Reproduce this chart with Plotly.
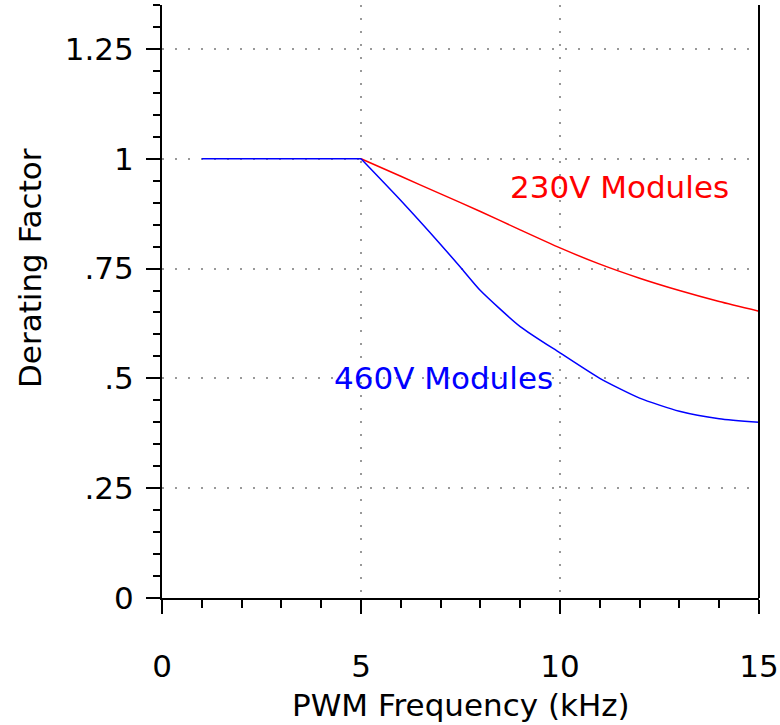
import plotly.graph_objects as go

freq_flat = [1, 5]
derate_flat = [1.0, 1.0]
freq_460 = [5, 6, 7, 7.5, 8, 9, 10, 11, 12, 13, 14, 15]
derate_460 = [1.0, 0.905, 0.805, 0.753, 0.70, 0.618, 0.558, 0.50, 0.455, 0.425, 0.408, 0.40]
freq_230 = [5, 6, 7, 8, 9, 10, 11, 12, 13, 14, 15]
derate_230 = [1.0, 0.96, 0.92, 0.88, 0.838, 0.797, 0.76, 0.728, 0.70, 0.675, 0.653]

x_ticks = [0, 5, 10, 15]
x_ticklabels = ["0", "5", "10", "15"]
y_ticks = [0, 0.25, 0.5, 0.75, 1, 1.25]
y_ticklabels = ["0", ".25", ".5", ".75", "1", "1.25"]

FONT = "DejaVu Sans"
FS = 31

fig = go.Figure()
fig.add_trace(go.Scatter(x=freq_230, y=derate_230, mode="lines",
                         line=dict(color="#ff0000", width=1.5, shape="spline", smoothing=0.6)))
fig.add_trace(go.Scatter(x=freq_flat, y=derate_flat, mode="lines",
                         line=dict(color="#0000ff", width=1.5)))
fig.add_trace(go.Scatter(x=freq_460, y=derate_460, mode="lines",
                         line=dict(color="#0000ff", width=1.5, shape="spline", smoothing=0.6)))

fig.add_annotation(x=11.5, y=0.935, text="230V Modules", showarrow=False,
                   font=dict(family=FONT, size=FS, color="#ff0000"))
fig.add_annotation(x=7.08, y=0.50, text="460V Modules", showarrow=False,
                   font=dict(family=FONT, size=FS, color="#0000ff"))

# axis titles (positioned in pixel terms relative to plot area)
fig.add_annotation(xref="paper", yref="paper", x=0.5, y=-(705 - 598) / (598 - 5),
                   yanchor="middle", text="PWM Frequency (kHz)",
                   showarrow=False, font=dict(family=FONT, size=FS, color="black"))
fig.add_annotation(xref="paper", yref="paper", x=-(162 - 30) / (759 - 162),
                   y=(598 - 268) / (598 - 5), xanchor="center", yanchor="middle",
                   text="Derating Factor", showarrow=False, textangle=-90,
                   font=dict(family=FONT, size=FS, color="black"))

# right frame line
fig.add_shape(type="line", xref="x domain", yref="y domain", x0=1, x1=1, y0=0, y1=1,
              line=dict(color="black", width=2))

fig.update_layout(
    width=780, height=725,
    margin=dict(l=162, r=21, t=5, b=127),
    paper_bgcolor="white", plot_bgcolor="white",
    showlegend=False,
    font=dict(family=FONT, size=FS, color="black"),
)
fig.update_xaxes(range=[0, 15], tickvals=x_ticks, ticktext=x_ticklabels, automargin=False,
                 showline=True, linecolor="black", linewidth=2,
                 ticks="outside", ticklen=14, tickwidth=2, tickcolor="black",
                 ticklabelstandoff=26,
                 minor=dict(dtick=1, ticks="outside", ticklen=8, tickwidth=2, tickcolor="black", showgrid=False),
                 showgrid=True, gridcolor="#999999", griddash="2px,11px", gridwidth=1.5,
                 zeroline=False)
fig.update_yaxes(range=[0, 1.35], tickvals=y_ticks, ticktext=y_ticklabels, automargin=False,
                 showline=True, linecolor="black", linewidth=2,
                 ticks="outside", ticklen=14, tickwidth=2, tickcolor="black",
                 ticklabelstandoff=6,
                 minor=dict(dtick=0.05, ticks="outside", ticklen=7, tickwidth=2, tickcolor="black", showgrid=False),
                 showgrid=True, gridcolor="#999999", griddash="2px,11px", gridwidth=1.5,
                 zeroline=False)

fig.write_html("out.html", config={"displayModeBar": False},
               post_script="document.body.style.margin='0';")
